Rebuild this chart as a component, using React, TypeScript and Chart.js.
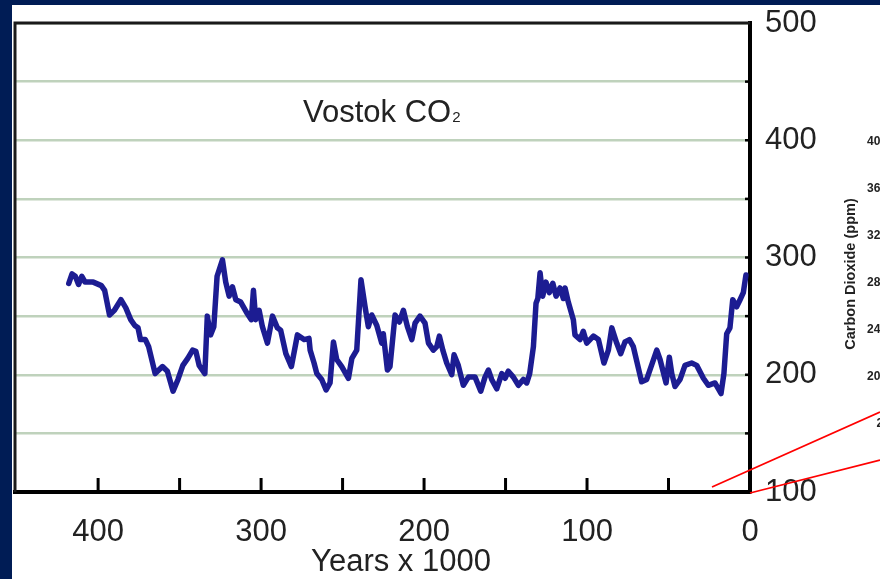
import React, { useEffect, useRef } from "react";
import { Chart, registerables } from "chart.js";

Chart.register(...registerables);

// Vostok ice core: age (thousands of years before present) and CO2 (ppm)
const ageKyr = [
  418, 416, 414, 412, 410, 408, 403, 398, 396, 393, 390, 386, 383, 380, 377.5, 375.5, 374, 371, 369, 365,
  360.5, 357.5, 354, 351, 348, 345, 342, 340, 338, 334.5, 333, 331, 329, 327, 323.7, 321.7, 319.6, 317.6,
  315.5, 312.5, 308.4, 306, 304.7, 303.3, 301.2, 299.2, 296.1, 293, 290, 288, 284.8, 281.4, 277.7, 273.6,
  270.6, 269.9, 267.5, 265.8, 262.8, 260.1, 257.7, 255.6, 253.6, 250.5, 246.4, 244.3, 241.3, 238.7, 236.2,
  234.2, 232.1, 229, 226, 225, 222.5, 220.9, 217.8, 215.1, 212.7, 210.2, 207.5, 205.5, 202.5, 199.4, 197.3,
  194.3, 192.2, 190.6, 188.5, 186.1, 183, 181.6, 179, 175.9, 172.8, 168.7, 165.2, 162.6, 160.5, 158.5, 155.4,
  152.3, 150.3, 148.3, 145.2, 142.1, 139.1, 137, 135.2, 132.9, 131.3, 130.2, 128.8, 127.2, 125.2, 123.1, 121,
  119, 116.6, 114.5, 113.5, 111.5, 108.4, 107.4, 104.3, 102.3, 100.2, 96.1, 93, 89.6, 86.9, 84.8, 81.8, 79.3,
  76.7, 74, 71.6, 66.5, 63.4, 57.2, 55.2, 51.5, 49.5, 48, 46, 42.9, 39.9, 35.8, 32.7, 28.6, 25.6, 21.5, 17.8,
  16, 14.3, 12.3, 10.6, 8.2, 6.1, 4.1, 2.5,
];

const co2Ppm = [
  278, 286, 284, 277, 284, 279, 279, 276, 272, 251, 255, 264, 257, 247, 242, 240, 230, 230, 224, 201,
  207, 203, 186, 196, 208, 214, 221, 220, 208, 201, 250, 234, 241, 284, 298, 279, 267, 275,
  264, 262, 252, 247, 272, 247, 255, 241, 227, 250, 240, 238, 218, 207, 234, 230,
  231, 221, 210, 201, 196, 187, 193, 228, 213, 207, 197, 214, 221, 281, 258,
  241, 251, 242, 227, 235, 204, 207, 251, 245, 255, 241, 230, 244, 250, 244, 227,
  221, 224, 233, 221, 210, 200, 217, 208, 191, 198, 198, 186, 198, 204, 196, 188,
  201, 197, 203, 198, 191, 196, 193, 201, 224, 261, 265, 287, 267, 279, 270, 278,
  267, 274, 265, 274, 262, 247, 234, 230, 237, 227, 233, 230, 210, 221, 240, 227, 218,
  228, 230, 224, 194, 196, 221, 213, 193, 215, 201, 190, 196, 208, 210, 208, 197, 191, 193, 184,
  201, 235, 240, 264, 258, 264, 270, 285,
];

// Axis ticks
const xTickValues = [0, 50, 100, 150, 200, 250, 300, 350, 400];
const xLabelValues = [0, 100, 200, 300, 400];
const yLabelValues = [100, 200, 300, 400, 500];

// Neighbouring panel's partly visible axis labels
const sideTickLabels = ["400", "360", "320", "280", "240", "200", "2"];

const FONT = "'Liberation Sans', Arial, Helvetica, sans-serif";
const NAVY = "#001c55";
const TEXT = "#222222";
const GRID = "#bfd2bc";
const LINE = "#1c1c92";

const framePlugin = {
  id: "vostokFrame",
  beforeDraw(chart: any) {
    const { ctx, width, height } = chart;
    ctx.save();
    ctx.fillStyle = "#ffffff";
    ctx.fillRect(0, 0, width, height);
    ctx.fillStyle = NAVY;
    ctx.fillRect(0, 0, width, 5);
    ctx.fillRect(0, 0, 12, height);
    ctx.restore();
  },
  afterDraw(chart: any) {
    const { ctx, chartArea } = chart;
    const xs = chart.scales.x;
    const ys = chart.scales.y;
    const { left, top, right, bottom } = chartArea;
    ctx.save();

    // left and top edges of the plot frame
    ctx.strokeStyle = "#1a1a1a";
    ctx.lineWidth = 3;
    ctx.beginPath();
    ctx.moveTo(left, bottom);
    ctx.lineTo(left, top);
    ctx.lineTo(right, top);
    ctx.stroke();

    // inward tick marks on the bottom axis
    ctx.strokeStyle = "#000";
    ctx.lineWidth = 3;
    xTickValues.forEach((v) => {
      if (v === 0) return;
      const px = xs.getPixelForValue(v);
      ctx.beginPath();
      ctx.moveTo(px, bottom);
      ctx.lineTo(px, bottom - 14);
      ctx.stroke();
    });

    // inward tick marks on the right axis
    ctx.lineWidth = 2.5;
    for (let v = 150; v < 500; v += 50) {
      const py = ys.getPixelForValue(v);
      ctx.beginPath();
      ctx.moveTo(right, py);
      ctx.lineTo(right - 5, py);
      ctx.stroke();
    }

    // chart title with subscript
    ctx.fillStyle = TEXT;
    ctx.textBaseline = "alphabetic";
    ctx.textAlign = "left";
    ctx.font = `31px ${FONT}`;
    const main = "Vostok CO";
    ctx.fillText(main, 303, 122);
    const w = ctx.measureText(main).width;
    ctx.font = `15px ${FONT}`;
    ctx.fillText("2", 303 + w + 1, 122);

    // x axis title
    ctx.font = `31px ${FONT}`;
    ctx.textAlign = "center";
    ctx.fillText("Years x 1000", 401, 571);

    // neighbouring panel fragment
    ctx.font = `bold 12px ${FONT}`;
    ctx.textAlign = "left";
    ctx.textBaseline = "middle";
    sideTickLabels.forEach((s, i) => {
      const x = s.length > 1 ? 867 : 876.5;
      ctx.fillText(s, x, 142 + i * 47);
    });
    ctx.save();
    ctx.translate(851, 274);
    ctx.rotate(-Math.PI / 2);
    ctx.textAlign = "center";
    ctx.font = `bold 14.5px ${FONT}`;
    ctx.fillText("Carbon Dioxide (ppm)", 0, 0);
    ctx.restore();

    // red callout lines
    ctx.strokeStyle = "#ff0000";
    ctx.lineWidth = 1.8;
    ctx.beginPath();
    ctx.moveTo(712, 487);
    ctx.lineTo(880, 412);
    ctx.moveTo(750, 493);
    ctx.lineTo(880, 460);
    ctx.stroke();

    ctx.restore();
  },
};

export default function App() {
  const canvasRef = useRef<HTMLCanvasElement | null>(null);

  useEffect(() => {
    const canvas = canvasRef.current;
    if (!canvas) return;
    const points = ageKyr.map((a, i) => ({ x: a, y: co2Ppm[i] }));
    const chart = new Chart(canvas, {
      type: "line",
      data: {
        datasets: [
          {
            label: "Vostok CO2",
            data: points,
            borderColor: LINE,
            borderWidth: 5.5,
            pointRadius: 0,
            fill: false,
            tension: 0,
            borderJoinStyle: "round",
            borderCapStyle: "round",
          },
        ],
      },
      options: {
        responsive: false,
        animation: false,
        devicePixelRatio: 1,
        layout: { padding: { left: 15, top: 23, right: 0, bottom: 0 } },
        plugins: {
          legend: { display: false },
          tooltip: { enabled: false },
          title: { display: false },
        },
        scales: {
          x: {
            type: "linear",
            reverse: true,
            min: 0,
            max: 451,
            afterBuildTicks: (scale: any) => {
              scale.ticks = xTickValues.map((v) => ({ value: v }));
            },
            afterFit: (scale: any) => {
              scale.height = 87;
              scale.paddingLeft = 0;
              scale.paddingRight = 0;
            },
            grid: { drawOnChartArea: false, drawTicks: false },
            border: { display: true, color: "#000", width: 4 },
            ticks: {
              autoSkip: false,
              maxRotation: 0,
              padding: 22,
              color: TEXT,
              font: { family: FONT, size: 31 },
              callback: (v: any) => (xLabelValues.includes(Number(v)) ? String(v) : ""),
            },
          },
          y: {
            type: "linear",
            position: "right",
            min: 100,
            max: 500,
            afterFit: (scale: any) => {
              scale.width = 130;
              scale.paddingTop = 0;
              scale.paddingBottom = 0;
            },
            grid: { color: GRID, lineWidth: 2.5, drawTicks: false },
            border: { display: true, color: "#000", width: 4 },
            ticks: {
              stepSize: 50,
              autoSkip: false,
              padding: 15,
              color: TEXT,
              font: { family: FONT, size: 31 },
              callback: (v: any) => (yLabelValues.includes(Number(v)) ? String(v) : ""),
            },
          },
        },
      },
      plugins: [framePlugin],
    });
    return () => chart.destroy();
  }, []);

  return (
    <div style={{ position: "absolute", left: 0, top: 0, width: 880, height: 579, background: NAVY }}>
      <canvas ref={canvasRef} width={880} height={579} style={{ display: "block" }} />
    </div>
  );
}
